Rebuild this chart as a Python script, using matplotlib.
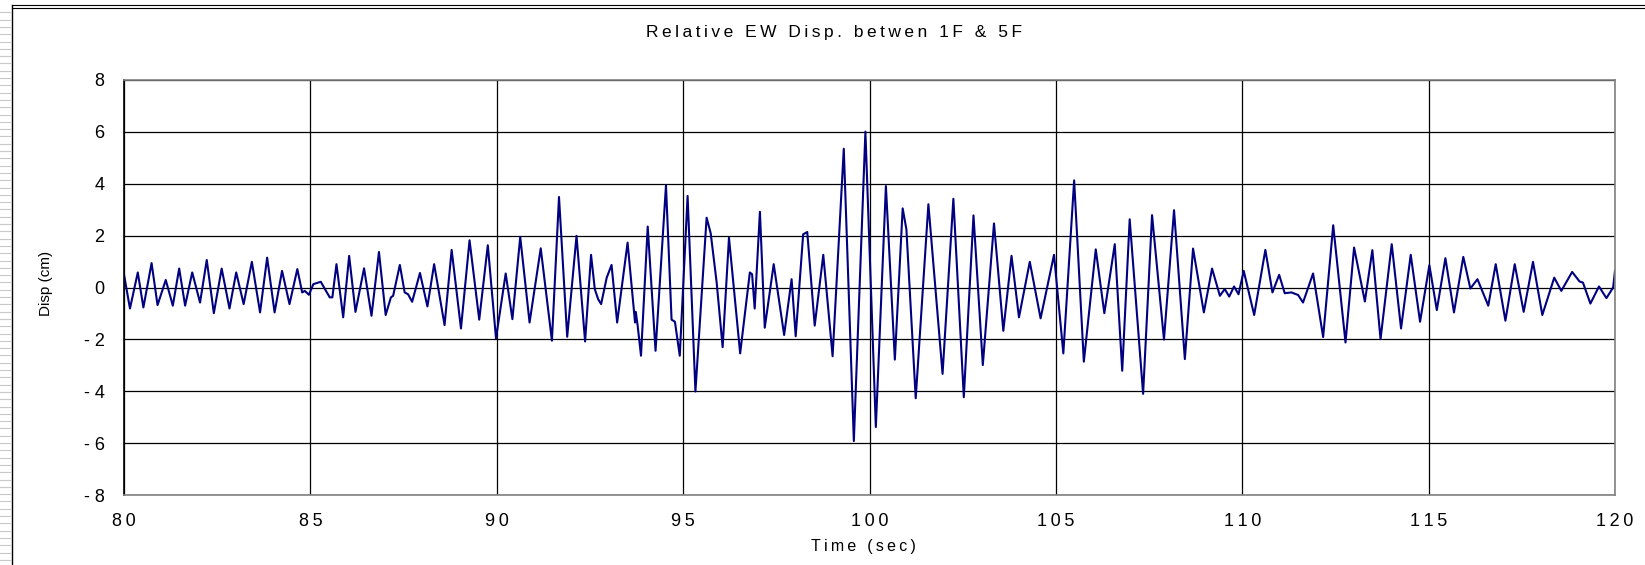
import matplotlib
matplotlib.use("Agg")
import matplotlib.pyplot as plt
from matplotlib.lines import Line2D
from matplotlib.ticker import FuncFormatter

# peaks / troughs (time in sec, disp in cm)
time_s = [
    80.00, 80.16, 80.37, 80.52, 80.74, 80.90, 81.12, 81.31, 81.48, 81.64,
    81.83, 82.04, 82.22, 82.41, 82.62, 82.83, 83.01, 83.21, 83.43, 83.65,
    83.84, 84.04, 84.24, 84.44, 84.65, 84.78, 84.85, 84.96, 85.08, 85.28,
    85.39, 85.52, 85.59, 85.70, 85.88, 86.04, 86.21, 86.44, 86.64, 86.84,
    87.02, 87.16, 87.22, 87.40, 87.53, 87.62, 87.73, 87.94, 88.14, 88.32,
    88.60, 88.79, 89.04, 89.27, 89.53, 89.76, 89.98, 90.24, 90.42, 90.63,
    90.88, 91.18, 91.48, 91.67, 91.89, 92.14, 92.37, 92.53, 92.63, 92.72,
    92.80, 92.95, 93.08, 93.23, 93.51, 93.71, 93.73, 93.78, 93.87, 94.05,
    94.26, 94.54, 94.69, 94.78, 94.91, 95.12, 95.33, 95.63, 95.74, 95.90,
    96.06, 96.23, 96.53, 96.79, 96.85, 96.92, 97.06, 97.19, 97.43, 97.71,
    97.91, 98.02, 98.22, 98.33, 98.53, 98.76, 99.01, 99.31, 99.58, 99.89,
    100.17, 100.44, 100.68, 100.89, 100.99, 101.24, 101.58, 101.96, 102.25, 102.53,
    102.79, 103.04, 103.34, 103.59, 103.81, 104.01, 104.30, 104.59, 104.95, 105.20,
    105.49, 105.75, 106.07, 106.30, 106.58, 106.78, 106.98, 107.34, 107.58, 107.90,
    108.17, 108.46, 108.68, 108.97, 109.19, 109.40, 109.53, 109.65, 109.78, 109.90,
    110.04, 110.32, 110.62, 110.81, 110.99, 111.14, 111.32, 111.50, 111.63, 111.90,
    112.17, 112.44, 112.77, 113.00, 113.29, 113.49, 113.71, 114.01, 114.26, 114.52,
    114.77, 115.02, 115.22, 115.45, 115.68, 115.93, 116.12, 116.31, 116.60, 116.80,
    117.06, 117.31, 117.55, 117.80, 118.05, 118.37, 118.56, 118.85, 119.05, 119.14,
    119.34, 119.57, 119.77, 119.95, 120.00,
]
disp_cm = [
    0.50, -0.81, 0.58, -0.77, 0.94, -0.68, 0.29, -0.70, 0.73, -0.70,
    0.58, -0.58, 1.06, -0.99, 0.73, -0.81, 0.58, -0.64, 0.99, -0.96,
    1.15, -0.96, 0.64, -0.64, 0.71, -0.19, -0.13, -0.28, 0.13, 0.22,
    -0.06, -0.38, -0.38, 0.90, -1.15, 1.22, -0.94, 0.74, -1.09, 1.37,
    -1.06, -0.38, -0.32, 0.87, -0.19, -0.26, -0.55, 0.56, -0.73, 0.90,
    -1.45, 1.45, -1.58, 1.82, -1.24, 1.63, -1.96, 0.54, -1.22, 1.95,
    -1.35, 1.51, -2.05, 3.49, -1.90, 1.99, -2.08, 1.26, -0.06, -0.45,
    -0.64, 0.38, 0.87, -1.35, 1.73, -1.35, -0.94, -1.47, -2.63, 2.35,
    -2.44, 3.94, -1.24, -1.32, -2.63, 3.53, -4.01, 2.69, 2.09, 0.19,
    -2.30, 1.92, -2.54, 0.58, 0.51, -0.81, 2.92, -1.55, 0.90, -1.83,
    0.32, -1.88, 2.05, 2.14, -1.47, 1.26, -2.65, 5.35, -5.92, 6.01,
    -5.38, 3.91, -2.78, 3.05, 2.24, -4.27, 3.21, -3.33, 3.42, -4.23,
    2.78, -2.99, 2.47, -1.67, 1.22, -1.15, 0.99, -1.19, 1.26, -2.54,
    4.13, -2.86, 1.47, -0.99, 1.67, -3.21, 2.63, -4.10, 2.79, -2.01,
    2.98, -2.76, 1.50, -0.96, 0.73, -0.32, -0.06, -0.35, 0.04, -0.26,
    0.64, -1.06, 1.45, -0.19, 0.49, -0.22, -0.19, -0.29, -0.58, 0.54,
    -1.91, 2.40, -2.12, 1.54, -0.54, 1.44, -1.99, 1.67, -1.58, 1.26,
    -1.32, 0.86, -0.87, 1.13, -0.96, 1.18, -0.04, 0.32, -0.70, 0.90,
    -1.28, 0.90, -0.94, 0.99, -1.06, 0.38, -0.13, 0.60, 0.23, 0.19,
    -0.62, 0.04, -0.41, 0.00, 0.64,
]

x_ticks = [80, 85, 90, 95, 100, 105, 110, 115, 120]
y_ticks = [-8, -6, -4, -2, 0, 2, 4, 6, 8]

plt.rcParams['font.family'] = ['Liberation Sans', 'DejaVu Sans']
plt.rcParams['axes.unicode_minus'] = False

TS = '\u2009'  # thin space, mimics the wide letter spacing of the original


def spaced(s):
    return TS.join(s)


def tick_fmt(v, pos):
    n = int(round(v))
    if n < 0:
        return '- ' + spaced(str(-n))
    return spaced(str(n))


W, H = 1645, 565
fig = plt.figure(figsize=(W / 100, H / 100), dpi=100)
ax = fig.add_axes([124 / W, 1 - 495 / H, (1615 - 124) / W, (495 - 80) / H])

ax.plot(time_s, disp_cm, color='#000080', linewidth=1.5)

ax.set_xlim(80, 120)
ax.set_ylim(-8, 8)
ax.set_xticks(x_ticks)
ax.set_yticks(y_ticks)
ax.xaxis.set_major_formatter(FuncFormatter(tick_fmt))
ax.yaxis.set_major_formatter(FuncFormatter(tick_fmt))
ax.grid(True, color='black', linewidth=0.9)
ax.set_axisbelow(True)
ax.tick_params(length=0, labelsize=13)
ax.tick_params(axis='y', pad=14)
ax.tick_params(axis='x', pad=13)
for side in ['top', 'right', 'bottom']:
    ax.spines[side].set_color('#808080')
ax.spines['left'].set_color('black')
for s in ax.spines.values():
    s.set_linewidth(1.2)

fig.text(834 / W, 1 - 33 / H, spaced('Relative EW Disp. betwen 1F & 5F'),
         ha='center', va='center', fontsize=12.5)
fig.text(863 / W, 1 - 547 / H, spaced('Time (sec)'), ha='center', va='center',
         fontsize=11.5)
fig.text(46 / W, 1 - 283 / H, 'Disp (cm)', ha='center', va='center',
         rotation=90, fontsize=11)

# outer frame of the sheet
fig.add_artist(Line2D([12 / W, 1], [1 - 5 / H, 1 - 5 / H], color='black', lw=0.8))
fig.add_artist(Line2D([12 / W, 1], [1 - 7.5 / H, 1 - 7.5 / H], color='black', lw=0.8))
fig.add_artist(Line2D([12 / W, 12 / W], [0, 1 - 5 / H], color='black', lw=1.0))
for k in range(1, 78):
    yy = 1 - (5 + 7.3 * k) / H
    fig.add_artist(Line2D([0, 11 / W], [yy, yy], color='#c8c8c8', lw=0.8))

fig.savefig('out.png', dpi=100)
